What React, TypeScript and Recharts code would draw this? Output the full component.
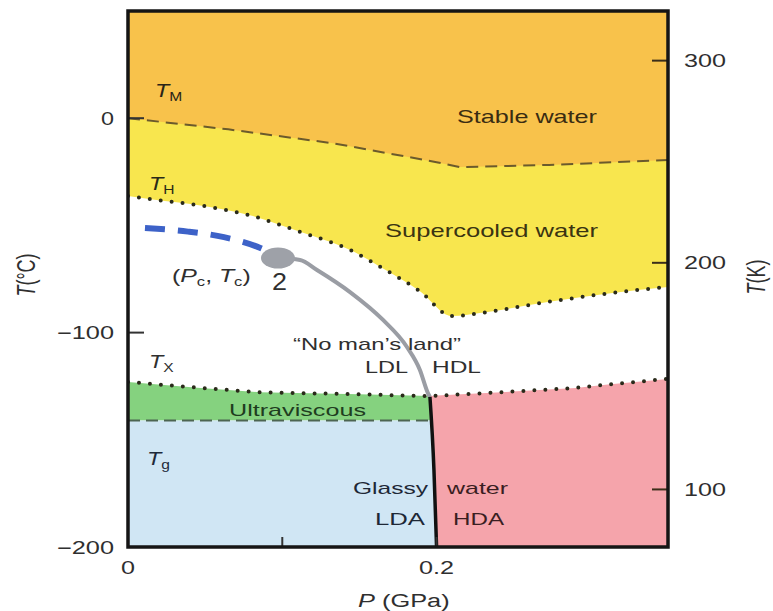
import React from 'react';
import { ComposedChart, XAxis, YAxis, Area, Line, Scatter } from 'recharts';

// ---------- data: pressure P (GPa), temperature T (°C) ----------
// T_M : melting line (dashed)
const tmP = [0, 0.065, 0.133, 0.2, 0.215, 0.273, 0.35];
const tmT = [0, -5.2, -11.7, -20.5, -22.8, -21.8, -19.5];
// T_H : homogeneous nucleation line (dotted)
const thP = [0, 0.016, 0.047, 0.079, 0.112, 0.144, 0.167, 0.189, 0.21, 0.228, 0.272, 0.314, 0.35];
const thT = [-36.3, -37.9, -40.7, -45.3, -53.1, -61.5, -70.8, -80.6, -92.3, -90.9, -85.7, -81.5, -78.7];
// T_X : crystallisation line (dotted)
const txP = [0, 0.047, 0.085, 0.15, 0.1957, 0.245, 0.29, 0.311, 0.35];
const txT = [-123, -125.8, -127.8, -128.8, -129.6, -127.7, -125.8, -124.2, -121.6];
// T_g : glass transition (dashed)
const tgP = [0, 0.1957];
const tgT = [-141, -141];
// Ultraviscous band (between T_g and T_X, LDL side)
const uvP = [0, 0.047, 0.085, 0.15, 0.1957];
const uvLow = [-141, -141, -141, -141, -141];
const uvHigh = [-123, -125.8, -127.8, -128.8, -129.6];
// Glassy LDA block
const ldaP = [0, 0.2];
const ldaLow = [-200, -200];
const ldaHigh = [-141, -141];
// HDA / HDL block
const hdaP = [0.1957, 0.1983, 0.2, 0.245, 0.29, 0.311, 0.35];
const hdaLow = [-130, -164, -200, -200, -200, -200, -200];
const hdaHigh = [-129.6, -129.4, -129.3, -127.7, -125.8, -124.2, -121.6];
// LDL/HDL coexistence line (grey) ending at the LDA/HDA boundary
const coexP = [0.0972, 0.1115, 0.1225, 0.1439, 0.1653, 0.1808, 0.1892, 0.1944, 0.1957];
const coexT = [-65.2, -66.1, -70.8, -81.1, -94.1, -106.7, -117.4, -128.2, -130];
// LDA/HDA boundary (black)
const bndP = [0.1957, 0.1983, 0.2];
const bndT = [-130, -164, -200];
// Widom line (blue dashed)
const widomP = [0.011, 0.0389, 0.0622, 0.0836, 0.0888];
const widomT = [-51.2, -52.9, -55.5, -59.9, -61.5];
// critical point
const critP = [0.0972];
const critT = [-65.2];

// axes
const pressureTicks = [0, 0.1, 0.2];
const pressureLabels = ['0', '', '0.2'];
const celsiusTicks = [0, -100, -200];
const celsiusLabels = ['0', '\u2212100', '\u2212200'];
const kelvinTicks = [300, 205.7, 100];
const kelvinLabels = ['300', '200', '100'];

const zip = (xs: number[], ys: number[]) => xs.map((p, i) => ({ p, t: ys[i] }));
const zipRange = (xs: number[], lo: number[], hi: number[]) =>
  xs.map((p, i) => ({ p, t: [lo[i], hi[i]] }));

const FONT = '"Liberation Sans", Arial, Helvetica, sans-serif';
const TXT = '#2f2f2f';

const LeftTick = (props: any) => {
  const { x, y, index } = props;
  const lab = celsiusLabels[index] ?? '';
  return (
    <g>
      <line x1={x} y1={y} x2={x + 16} y2={y} stroke="#333" strokeWidth={2} />
      <text x={x - 14} y={y + 6.5} textAnchor="end" fontFamily={FONT} fontSize={18} fill={TXT}
        textLength={lab.length > 1 ? 57 : 13} lengthAdjust="spacingAndGlyphs">{lab}</text>
    </g>
  );
};

const RightTick = (props: any) => {
  const { x, y, index } = props;
  const lab = kelvinLabels[index] ?? '';
  return (
    <g>
      <line x1={x - 16} y1={y} x2={x} y2={y} stroke="#3a2e1a" strokeWidth={2} />
      <text x={x + 16} y={y + 6.5} textAnchor="start" fontFamily={FONT} fontSize={18} fill={TXT}
        textLength={42} lengthAdjust="spacingAndGlyphs">{lab}</text>
    </g>
  );
};

const BottomTick = (props: any) => {
  const { x, y, index } = props;
  const lab = pressureLabels[index] ?? '';
  return (
    <g>
      <line x1={x} y1={y} x2={x} y2={y - 10} stroke="#333" strokeWidth={2} />
      {lab ? (
        <text x={x} y={y + 27} textAnchor="middle" fontFamily={FONT} fontSize={18} fill={TXT}
          textLength={lab.length > 1 ? 35 : 14} lengthAdjust="spacingAndGlyphs">{lab}</text>
      ) : null}
    </g>
  );
};

const notes = [
  { t: 'Stable water', x: 457, y: 123, w: 140, s: 19, c: '#3a2c12' },
  { t: 'Supercooled water', x: 385, y: 237, w: 213, s: 19, c: '#3a3412' },
  { t: '\u201CNo man\u2019s land\u201D', x: 293, y: 350, w: 168, s: 17, c: TXT },
  { t: 'LDL', x: 365, y: 373, w: 43, s: 17, c: TXT },
  { t: 'HDL', x: 432, y: 373, w: 49, s: 17, c: TXT },
  { t: 'Ultraviscous', x: 229, y: 416, w: 137, s: 17, c: '#1f3d1f' },
  { t: 'Glassy', x: 353, y: 494, w: 75, s: 17, c: '#1e2836' },
  { t: 'water', x: 447, y: 494, w: 61, s: 17, c: '#3a1e22' },
  { t: 'LDA', x: 375, y: 525, w: 50, s: 17, c: '#1e2836' },
  { t: 'HDA', x: 453, y: 525, w: 51, s: 17, c: '#3a1e22' },
  { t: '2', x: 272, y: 290, w: 15, s: 24, c: TXT },
];

const tLabels = [
  { sub: 'M', x: 155, y: 97, c: '#2a2418' },
  { sub: 'H', x: 149, y: 190, c: '#2a2a18' },
  { sub: 'X', x: 149, y: 368, c: TXT },
  { sub: 'g', x: 147, y: 465, c: '#1e2a3a' },
];

const dotted = { strokeDasharray: '0 11', strokeLinecap: 'round' as const, strokeWidth: 4, stroke: '#2a2a1a' };

export default function App() {
  return (
    <div style={{ position: 'absolute', left: 0, top: 0, width: 773, height: 611, background: '#fff' }}>
      <ComposedChart width={773} height={611} margin={{ top: 11, right: 0, bottom: 0, left: 0 }}>
        <XAxis xAxisId="p" type="number" dataKey="p" domain={[0, 0.35]} ticks={pressureTicks}
          interval={0} height={64} axisLine={false} tickLine={false} tickSize={0} tickMargin={0}
          tick={(p: any) => <BottomTick {...p} />} allowDataOverflow />
        <YAxis yAxisId="c" type="number" domain={[-200, 50]} ticks={celsiusTicks} interval={0}
          width={128} axisLine={false} tickLine={false} tickSize={0} tickMargin={0}
          tick={(p: any) => <LeftTick {...p} />} allowDataOverflow />
        <YAxis yAxisId="k" orientation="right" type="number" domain={[73.15, 323.15]} ticks={kelvinTicks}
          interval={0} width={105} axisLine={false} tickLine={false} tickSize={0} tickMargin={0}
          tick={(p: any) => <RightTick {...p} />} allowDataOverflow />

        {/* filled regions */}
        <Area xAxisId="p" yAxisId="c" data={zip(thP, thT)} dataKey="t" type="monotone" baseValue={50}
          fill="#f8e64e" fillOpacity={1} stroke="none" isAnimationActive={false} />
        <Area xAxisId="p" yAxisId="c" data={zip(tmP, tmT)} dataKey="t" type="linear" baseValue={50}
          fill="#f8c24b" fillOpacity={1} stroke="none" isAnimationActive={false} />
        <Area xAxisId="p" yAxisId="c" data={zipRange(uvP, uvLow, uvHigh)} dataKey="t" type="linear"
          fill="#85d27f" fillOpacity={1} stroke="none" isAnimationActive={false} />
        <Area xAxisId="p" yAxisId="c" data={zipRange(ldaP, ldaLow, ldaHigh)} dataKey="t" type="linear"
          fill="#d0e6f4" fillOpacity={1} stroke="none" isAnimationActive={false} />
        <Area xAxisId="p" yAxisId="c" data={zipRange(hdaP, hdaLow, hdaHigh)} dataKey="t" type="linear"
          fill="#f5a4ab" fillOpacity={1} stroke="none" isAnimationActive={false} />

        {/* boundary lines */}
        <Line xAxisId="p" yAxisId="c" data={zip(tmP, tmT)} dataKey="t" type="linear" dot={false}
          activeDot={false} stroke="#6b5a2c" strokeWidth={2} strokeDasharray="12 7" isAnimationActive={false} />
        <Line xAxisId="p" yAxisId="c" data={zip(thP, thT)} dataKey="t" type="monotone" dot={false}
          activeDot={false} {...dotted} isAnimationActive={false} />
        <Line xAxisId="p" yAxisId="c" data={zip(txP, txT)} dataKey="t" type="linear" dot={false}
          activeDot={false} {...dotted} isAnimationActive={false} />
        <Line xAxisId="p" yAxisId="c" data={zip(tgP, tgT)} dataKey="t" type="linear" dot={false}
          activeDot={false} stroke="#4d6552" strokeWidth={2} strokeDasharray="12 6" isAnimationActive={false} />
        <Line xAxisId="p" yAxisId="c" data={zip(coexP, coexT)} dataKey="t" type="monotone" dot={false}
          activeDot={false} stroke="#9a9da4" strokeWidth={4} isAnimationActive={false} />
        <Line xAxisId="p" yAxisId="c" data={zip(bndP, bndT)} dataKey="t" type="monotone" dot={false}
          activeDot={false} stroke="#111" strokeWidth={3.5} isAnimationActive={false} />
        <Line xAxisId="p" yAxisId="c" data={zip(widomP, widomT)} dataKey="t" type="monotone" dot={false}
          activeDot={false} stroke="#3d62c8" strokeWidth={6} strokeDasharray="20 13" isAnimationActive={false} />
        <Scatter xAxisId="p" yAxisId="c" data={zip(critP, critT)} dataKey="t" isAnimationActive={false}
          shape={(s: any) => <ellipse cx={s.cx} cy={s.cy} rx={17} ry={10.5} fill="#9ea1a8" />} />
      </ComposedChart>

      {/* overlay: frame and text annotations */}
      <svg width={773} height={611} style={{ position: 'absolute', left: 0, top: 0, pointerEvents: 'none' }}
        fontFamily={FONT}>
        <rect x={128} y={11} width={540} height={536} fill="none" stroke="#151515" strokeWidth={3.5} />
        {notes.map((n) => (
          <text key={n.t} x={n.x} y={n.y} fontSize={n.s} fill={n.c} textLength={n.w}
            lengthAdjust="spacingAndGlyphs">{n.t}</text>
        ))}
        {tLabels.map((l) => (
          <text key={l.sub} transform={`translate(${l.x},${l.y}) scale(1.3,1)`} fontSize={18} fill={l.c}>
            <tspan fontStyle="italic">T</tspan>
            <tspan fontSize={12} dy={4}>{l.sub}</tspan>
          </text>
        ))}
        <text transform="translate(172,282) scale(1.38,1)" fontSize={18} fill={TXT}>
          (<tspan fontStyle="italic">P</tspan><tspan fontSize={12} dy={4}>c</tspan>
          <tspan dy={-4}>, </tspan><tspan fontStyle="italic">T</tspan>
          <tspan fontSize={12} dy={4}>c</tspan><tspan dy={-4}>)</tspan>
        </text>
        <text transform="translate(358,607) scale(1.41,1)" fontSize={18} fill={TXT}>
          <tspan fontStyle="italic">P</tspan> (GPa)
        </text>
        <text transform="translate(34.7,275) rotate(-90) scale(1,1.4)" textAnchor="middle" fontSize={18} fill={TXT}>
          <tspan fontStyle="italic">T</tspan>(°C)
        </text>
        <text transform="translate(764.7,277) rotate(-90) scale(1,1.4)" textAnchor="middle" fontSize={18} fill={TXT}>
          <tspan fontStyle="italic">T</tspan>(K)
        </text>
      </svg>
    </div>
  );
}
